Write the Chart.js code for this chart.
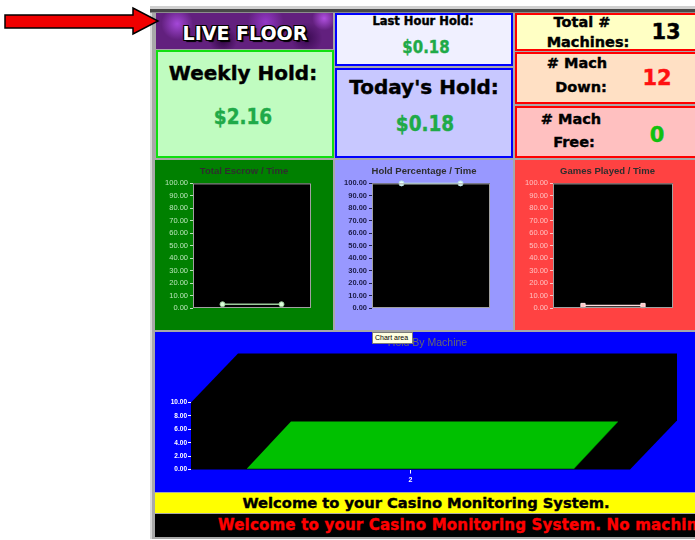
<!DOCTYPE html>
<html>
<head>
<meta charset="utf-8">
<script src="https://cdn.jsdelivr.net/npm/chart.js@4.4.0/dist/chart.umd.min.js"></script>
<style>
  html, body { margin: 0; padding: 0; }
  body { width: 695px; height: 540px; overflow: hidden; background: #fff; position: relative; font-family: 'DejaVu Sans', Verdana, sans-serif; }
  .abs { position: absolute; box-sizing: border-box; }
  .frame { left: 150px; top: 6px; width: 560px; height: 533px; background: #a8a8a8; border-left: 2px solid #d8d8d8; }
  .frame-top { left: 150px; top: 6px; width: 560px; height: 7px; background: linear-gradient(#d0d0d0 0 3px, #484848 3px 6px, #8c8c8c 6px); }
  .live { left: 156px; top: 13px; width: 177px; height: 36px;
    background:
      radial-gradient(circle at 12% 30%, #a448d8 0, transparent 16px),
      radial-gradient(circle at 38% 75%, #2e0640 0, transparent 14px),
      radial-gradient(circle at 62% 25%, #9438c8 0, transparent 18px),
      radial-gradient(circle at 85% 70%, #3a0a52 0, transparent 16px),
      radial-gradient(circle at 95% 15%, #b050e0 0, transparent 12px),
      #62207e; }
  .t { position: absolute; transform: translate(-50%, -50%); white-space: nowrap; line-height: 1; font-weight: bold; color: #000; -webkit-text-stroke: 0.4px currentColor; }
  .v { transform: translate(-50%, -50%) scaleX(0.88); color: #1faa48; }
  canvas { position: absolute; }
</style>
</head>
<body>
<script>
// values
const timeLabels = ['1', '2'];
const escrowValues = [3, 3];
const holdPctValues = [100, 100];
const gamesValues = [2, 2];
const machineLabels = ['2'];
const machineHold = [0.18];
</script>

<svg class="abs" style="left:0;top:0;z-index:5" width="170" height="45">
  <polygon points="5,15 133,15 133,8 158,21 133,34 133,28 5,28" fill="#f00000" stroke="#000" stroke-width="1.5"/>
</svg>

<div class="abs frame"></div>
<div class="abs frame-top"></div>

<div class="abs live"></div>
<div class="abs" style="left:156px;top:50px;width:178px;height:108px;background:#c0fcc0;border:2px solid #10e010"></div>
<div class="abs" style="left:335px;top:13px;width:178px;height:53px;background:#f0f0ff;border:2px solid #0000ff"></div>
<div class="abs" style="left:335px;top:68px;width:178px;height:90px;background:#c8c8ff;border:2px solid #0000ff"></div>
<div class="abs" style="left:515px;top:13px;width:185px;height:38px;background:#ffffc4;border:2px solid #ff0000"></div>
<div class="abs" style="left:515px;top:52px;width:185px;height:52px;background:#ffe0c4;border:2px solid #ff0000"></div>
<div class="abs" style="left:515px;top:106px;width:185px;height:52px;background:#ffc0c0;border:2px solid #ff0000"></div>

<div class="t" style="left:245px;top:33px;font-size:19px;color:#fff;-webkit-text-stroke:0;text-shadow:-1px -1px 0 #000,1px -1px 0 #000,-1px 1px 0 #000,1px 1px 0 #000,2px 2px 1px #000">LIVE FLOOR</div>

<div class="t" style="left:243px;top:73px;font-size:20px">Weekly Hold:</div>
<div class="t v" style="left:243px;top:117px;font-size:21px">$2.16</div>

<div class="t" style="left:423px;top:22px;font-size:11.5px">Last Hour Hold:</div>
<div class="t v" style="left:426px;top:47px;font-size:17px">$0.18</div>

<div class="t" style="left:424px;top:87px;font-size:20px">Today's Hold:</div>
<div class="t v" style="left:425px;top:124px;font-size:21px">$0.18</div>

<div class="t" style="left:582px;top:22px;font-size:14.5px">Total #</div>
<div class="t" style="left:588px;top:42px;font-size:14.5px">Machines:</div>
<div class="t" style="left:666px;top:32px;font-size:21px">13</div>

<div class="t" style="left:577px;top:63px;font-size:14.5px"># Mach</div>
<div class="t" style="left:581px;top:87px;font-size:14.5px">Down:</div>
<div class="t" style="left:657px;top:78px;font-size:21px;color:#ff1010">12</div>

<div class="t" style="left:571px;top:119px;font-size:14.5px"># Mach</div>
<div class="t" style="left:574px;top:142px;font-size:14.5px">Free:</div>
<div class="t" style="left:657px;top:135px;font-size:21px;color:#10c010">0</div>

<div class="abs" style="left:155px;top:160px;width:178px;height:170px;background:#008000"></div>
<div class="abs" style="left:335px;top:160px;width:178px;height:170px;background:#9898ff"></div>
<div class="abs" style="left:515px;top:160px;width:185px;height:170px;background:#ff4242"></div>
<div class="abs" style="left:155px;top:332px;width:545px;height:160px;background:#0000ff"></div>

<canvas id="escrowChart" width="178" height="170" style="left:155px;top:160px"></canvas>
<canvas id="holdPctChart" width="178" height="170" style="left:335px;top:160px"></canvas>
<canvas id="gamesChart" width="185" height="170" style="left:515px;top:160px"></canvas>
<canvas id="machineChart" width="545" height="160" style="left:155px;top:332px"></canvas>

<div class="abs" style="left:372px;top:332px;width:41px;height:12px;background:#ffffe1;border:1px solid #7a7a7a;font:7px 'Liberation Sans',Arial,sans-serif;line-height:10px;padding-left:2px;z-index:3">Chart area</div>

<div class="abs" style="left:155px;top:493px;width:545px;height:20px;background:#ffff00"></div>
<div class="t" style="left:426px;top:503px;font-size:14.7px">Welcome to your Casino Monitoring System.</div>
<div class="abs" style="left:155px;top:514px;width:545px;height:23px;background:#000;overflow:hidden">
  <div style="position:absolute;left:63px;top:3px;white-space:nowrap;font-weight:bold;font-size:15px;line-height:16px;letter-spacing:0.2px;color:#ff0000;-webkit-text-stroke:0.4px #ff0000">Welcome to your Casino Monitoring System. No machine</div>
</div>

<script>
const sansFont = "'Liberation Sans', Arial, sans-serif";

// black plot area with a thin grey frame, like the old chart control
const plotBox = {
  id: 'plotBox',
  beforeDraw(chart, args, opts) {
    if (!opts.fill) return;
    const { ctx, chartArea: a } = chart;
    ctx.save();
    ctx.fillStyle = opts.fill;
    ctx.fillRect(a.left, a.top, a.right - a.left, a.bottom - a.top);
    ctx.restore();
  },
  afterDatasetsDraw(chart, args, opts) {
    if (!opts.border) return;
    const { ctx, chartArea: a } = chart;
    ctx.save();
    ctx.strokeStyle = opts.border;
    ctx.lineWidth = 1;
    ctx.strokeRect(a.left + 0.5, a.top + 0.5, a.right - a.left - 1, a.bottom - a.top - 1);
    ctx.restore();
  }
};

// fake 3D: back wall / floor behind the front plane and a top face on each bar
const depth3d = {
  id: 'depth3d',
  beforeDraw(chart, args, opts) {
    const { ctx, chartArea: a } = chart;
    const dx = opts.dx, dy = opts.dy;
    ctx.save();
    ctx.fillStyle = '#000';
    ctx.beginPath();
    ctx.moveTo(a.left, a.bottom);
    ctx.lineTo(a.left, a.top);
    ctx.lineTo(a.left + dx, a.top + dy);
    ctx.lineTo(a.right + dx, a.top + dy);
    ctx.lineTo(a.right + dx, a.bottom + dy);
    ctx.lineTo(a.right, a.bottom);
    ctx.closePath();
    ctx.fill();
    ctx.restore();
  },
  afterDatasetsDraw(chart, args, opts) {
    const { ctx } = chart;
    const bdx = opts.barDx, bdy = opts.barDy;
    chart.getDatasetMeta(0).data.forEach(bar => {
      const { x, y, base, width } = bar.getProps(['x', 'y', 'base', 'width'], true);
      const l = x - width / 2, r = x + width / 2;
      ctx.save();
      ctx.fillStyle = opts.side;
      ctx.beginPath();
      ctx.moveTo(r, y); ctx.lineTo(r + bdx, y + bdy); ctx.lineTo(r + bdx, base + bdy); ctx.lineTo(r, base);
      ctx.closePath(); ctx.fill();
      ctx.fillStyle = opts.top;
      ctx.beginPath();
      ctx.moveTo(l, y); ctx.lineTo(r, y); ctx.lineTo(r + bdx, y + bdy); ctx.lineTo(l + bdx, y + bdy);
      ctx.closePath(); ctx.fill();
      ctx.restore();
    });
  }
};

// empty axis on the right so the plot keeps its margin but the title stays centred on the panel
function spacer(w) {
  return {
    type: 'linear', position: 'right', display: true,
    afterFit: s => { s.width = w; },
    ticks: { display: false }, grid: { display: false }, border: { display: false }
  };
}

function timeChart(id, values, c) {
  return new Chart(document.getElementById(id), {
    type: 'line',
    data: {
      labels: timeLabels,
      datasets: [{
        data: values,
        borderColor: c.line,
        borderWidth: 1.5,
        pointStyle: c.pointStyle || 'circle',
        pointRadius: c.pointRadius || 2.5,
        pointBackgroundColor: c.point,
        pointBorderColor: c.pointBorder,
        pointBorderWidth: 1,
        clip: false
      }]
    },
    options: {
      responsive: false,
      animation: false,
      layout: { padding: { left: 0, right: 0, top: 0, bottom: 22 } },
      plugins: {
        legend: { display: false },
        tooltip: { enabled: false },
        title: {
          display: true,
          text: c.title,
          color: '#2e2e2e',
          font: { family: sansFont, size: 9.5, weight: 'bold' },
          padding: { top: 6, bottom: 6 }
        },
        plotBox: { fill: '#000', border: '#a0a0a0' }
      },
      scales: {
        x: { display: false, offset: true },
        y: {
          min: 0, max: 100,
          afterFit: s => { s.width = c.axisW; },
          ticks: {
            stepSize: 10,
            color: c.tick,
            padding: 2,
            font: { family: sansFont, size: 7.5, weight: c.bold ? 'bold' : 'normal' },
            callback: v => v.toFixed(2)
          },
          grid: { drawOnChartArea: false, tickLength: 3, color: c.tick },
          border: { display: false }
        },
        pad: spacer(c.right)
      }
    },
    plugins: [plotBox]
  });
}

timeChart('escrowChart', escrowValues, {
  title: 'Total Escrow / Time', axisW: 38, right: 22,
  tick: '#b8e4b8', line: '#9ccc9c', point: '#dcffdc', pointBorder: '#9ccc9c'
});
timeChart('holdPctChart', holdPctValues, {
  title: 'Hold Percentage / Time', axisW: 37, right: 23, bold: true,
  tick: '#1c1c48', line: '#bceaea', point: '#e8ffff', pointBorder: '#bceaea'
});
timeChart('gamesChart', gamesValues, {
  title: 'Games Played / Time', axisW: 38, right: 27,
  tick: '#ffc0c0', line: '#ffdede', point: '#ffc6c6', pointBorder: '#ffe4e4',
  pointStyle: 'rect', pointRadius: 3
});

new Chart(document.getElementById('machineChart'), {
  type: 'bar',
  data: {
    labels: machineLabels,
    datasets: [{
      data: machineHold,
      backgroundColor: '#00c000',
      categoryPercentage: 1,
      barPercentage: 0.745
    }]
  },
  options: {
    responsive: false,
    animation: false,
    layout: { padding: { left: 0, right: 0, top: 0, bottom: 6 } },
    plugins: {
      legend: { display: false },
      tooltip: { enabled: false },
      title: {
        display: true,
        text: 'Hold By Machine',
        color: '#6a6a6a',
        font: { family: sansFont, size: 10.5, weight: 'normal' },
        padding: { top: 5, bottom: 53 }
      },
      depth3d: { dx: 47, dy: -49, barDx: 44, barDy: -47, top: '#00c000', side: '#009000' }
    },
    scales: {
      x: {
        ticks: { color: '#ffffff', padding: 2, font: { family: sansFont, size: 7, weight: 'bold' } },
        grid: { offset: false, drawOnChartArea: false, tickLength: 4, color: '#ffffff' },
        border: { display: false }
      },
      y: {
        min: 0, max: 10,
        afterFit: s => { s.width = 36; },
        ticks: {
          stepSize: 2,
          color: '#ffffff',
          padding: 1,
          font: { family: sansFont, size: 6.5, weight: 'bold' },
          callback: v => v.toFixed(2)
        },
        grid: { drawOnChartArea: false, tickLength: 3, color: '#ffffff' },
        border: { display: false }
      },
      pad: spacer(70)
    }
  },
  plugins: [depth3d]
});
</script>
</body>
</html>
